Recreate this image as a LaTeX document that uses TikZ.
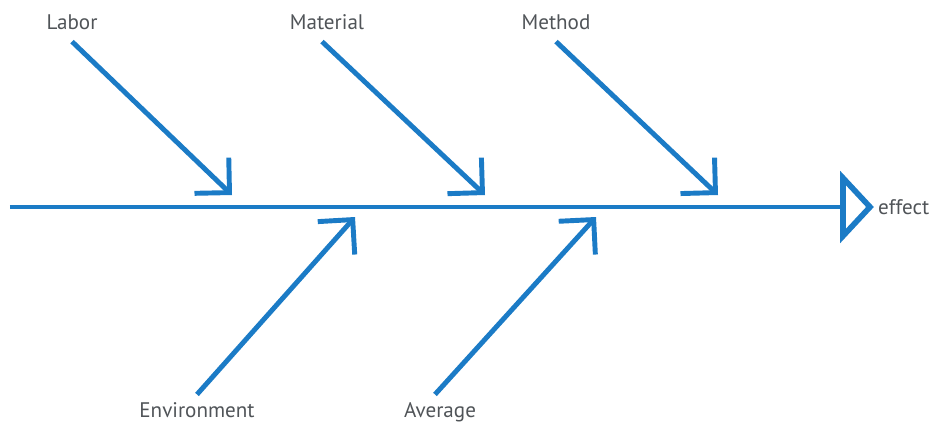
\documentclass[tikz,border=0pt]{standalone}
\usepackage{fontspec}
\setmainfont{PT Sans}
\usepackage{xcolor}
\definecolor{fishBlue}{HTML}{1B7BC6}
\definecolor{labelGray}{HTML}{505458}
\usepackage{tikz}
\usetikzlibrary{arrows.meta,positioning}

\begin{document}
\begin{tikzpicture}[every node/.style={font=\large, text=labelGray},
  bone/.style={line width=2.8pt, fishBlue, -{Straight Barb[angle=90:7mm, sharp, line width=2.8pt]}},
  spine/.style={line width=2.8pt, fishBlue},
  cause/.style={inner sep=1pt, outer sep=4pt, text height=1.6ex, text depth=0.4ex}]
  \useasboundingbox (0,0) rectangle (18.7,8.42);

  % Spine and head
  \coordinate (tail) at (0.2,4.28);
  \coordinate (head) at (16.86,4.28);
  \draw[spine] (tail) -- (head);
  \draw[spine, line width=3.2pt, fill=white, line join=miter]
    ([yshift=0.58cm]head) -- ++(0.54,-0.58) coordinate (apex) -- ([yshift=-0.58cm]head) -- cycle;
  \node[right=0.12cm of apex, inner sep=1pt] (effect) {effect};

  % Causes above the spine
  \node[cause] (labor) at (1.44,7.94) {Labor};
  \node[cause] (material) at (6.54,7.94) {Material};
  \node[cause] (method) at (11.12,7.94) {Method};
  \coordinate (laborTip) at (4.64,4.52);
  \coordinate (materialTip) at (9.7,4.52);
  \coordinate (methodTip) at (14.36,4.52);
  \draw[bone] (labor.south) -- (laborTip);
  \draw[bone] ([xshift=-0.1cm]material.south) -- (materialTip);
  \draw[bone] (method.south) -- (methodTip);

  % Causes below the spine
  \node[cause] (environment) at (3.94,0.18) {Environment};
  \node[cause] (average) at (8.8,0.18) {Average};
  \coordinate (environmentTip) at (7.1,4.08);
  \coordinate (averageTip) at (11.92,4.08);
  \draw[bone] (environment.north) -- (environmentTip);
  \draw[bone] ([xshift=-0.1cm]average.north) -- (averageTip);
\end{tikzpicture}
\end{document}
